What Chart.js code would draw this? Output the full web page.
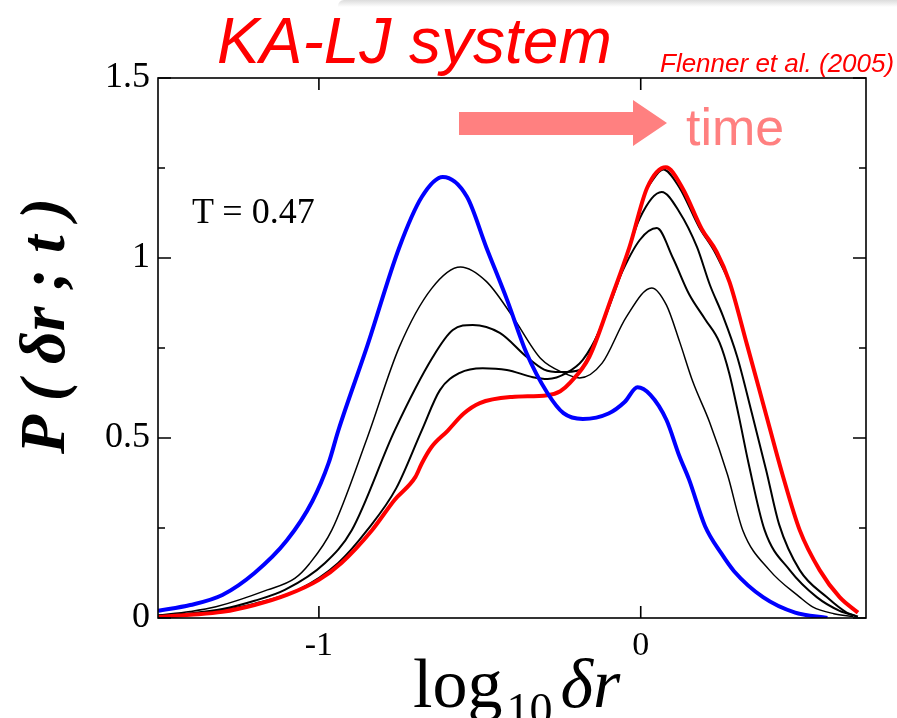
<!DOCTYPE html>
<html>
<head>
<meta charset="utf-8">
<title>KA-LJ system: P(δr;t)</title>
<script src="https://cdn.jsdelivr.net/npm/chart.js@4.4.1/dist/chart.umd.min.js"></script>
<style>
  html, body { margin: 0; padding: 0; background: #fff; }
  #wrap { position: relative; width: 897px; height: 718px; overflow: hidden; background: #fff; }
  #c { position: absolute; left: 0; top: 0; }
  .t { position: absolute; white-space: nowrap; line-height: 1; }
  #shade { position: absolute; left: 338px; top: 0; width: 570px; height: 7px;
           border-top-left-radius: 6px;
           background: linear-gradient(#dcdcdc, rgba(255,255,255,0)); }
  #title { left: 217px; top: 4px; font: italic 64px "Liberation Sans", Arial, sans-serif; color: #ff0000; }
  #cite { left: 660px; top: 48px; font: italic 26px "Liberation Sans", Arial, sans-serif; color: #ff0000; }
  #time { left: 686px; top: 97px; font: 52px "Liberation Sans", Arial, sans-serif; color: #ff8080; }
  #temp { left: 192px; top: 190px; font: 36px "Liberation Serif", "Times New Roman", serif; color: #000; }
  #xtitle { left: 413px; top: 644px; font: 70px "Liberation Serif", "Times New Roman", serif; color: #000; }
  #xtitle .sub { font-size: 46px; position: relative; top: 18px; margin-left: 4px; }
  #xtitle i { margin-left: 8px; }
  #ytitle { left: 43px; top: 326px; font: bold italic 64px "Liberation Serif", "Times New Roman", serif; color: #000;
            transform: translate(-50%, -50%) rotate(-90deg); }
  #arrow { position: absolute; left: 0; top: 0; }
</style>
</head>
<body>
<div id="wrap">
  <div id="shade"></div>
  <canvas id="c" width="897" height="718"></canvas>
  <svg id="arrow" width="897" height="718">
    <polygon points="459,112 633,112 633,100 667,123 633,146 633,135 459,135" fill="#ff8080"/>
  </svg>
  <div class="t" id="title">KA-LJ system</div>
  <div class="t" id="cite">Flenner et al. (2005)</div>
  <div class="t" id="time">time</div>
  <div class="t" id="temp">T = 0.47</div>
  <div class="t" id="xtitle">log<span class="sub">10</span><i>δr</i></div>
  <div class="t" id="ytitle">P ( δr ; t )</div>
</div>
<script>
// Axis ticks and their printed labels
const xTickValues = [-1, 0];
const xTickLabels = ['-1', '0'];
const yTickValues = [0, 0.5, 1, 1.5];
const yTickLabels = ['0', '0.5', '1', '1.5'];

// Earliest time (blue)
const blueX = [-1.5, -1.4, -1.3, -1.2, -1.1, -1.02, -0.97, -0.94, -0.85, -0.75, -0.68, -0.615, -0.54, -0.48, -0.415, -0.355, -0.29, -0.24, -0.18, -0.1, -0.05, -0.01, 0.03, 0.08, 0.12, 0.15, 0.2, 0.25, 0.29, 0.38, 0.48, 0.58];
const blueY = [0.02, 0.036, 0.064, 0.125, 0.215, 0.325, 0.43, 0.52, 0.755, 1.03, 1.17, 1.225, 1.17, 1.03, 0.883, 0.736, 0.625, 0.569, 0.553, 0.568, 0.6, 0.641, 0.62, 0.55, 0.45, 0.385, 0.255, 0.18, 0.13, 0.058, 0.015, 0.0];

// Intermediate times (black), in order of increasing time
const t1X = [-1.5, -1.4, -1.32, -1.16, -1.075, -1.03, -0.96, -0.85, -0.75, -0.65, -0.56, -0.48, -0.4, -0.31, -0.24, -0.19, -0.12, -0.045, 0.034, 0.08, 0.121, 0.162, 0.214, 0.27, 0.317, 0.4, 0.494, 0.534, 0.6, 0.66];
const t1Y = [0.008, 0.018, 0.031, 0.078, 0.11, 0.15, 0.244, 0.5, 0.753, 0.915, 0.975, 0.935, 0.84, 0.72, 0.681, 0.667, 0.708, 0.836, 0.917, 0.869, 0.767, 0.656, 0.544, 0.397, 0.244, 0.133, 0.058, 0.031, 0.012, 0.004];

const t2X = [-1.5, -1.4, -1.3, -1.2, -1.106, -0.981, -0.898, -0.764, -0.646, -0.584, -0.522, -0.438, -0.354, -0.3, -0.25, -0.19, -0.137, -0.065, -0.003, 0.05, 0.1, 0.15, 0.2, 0.245, 0.275, 0.305, 0.335, 0.385, 0.463, 0.547, 0.618, 0.67];
const t2Y = [0.006, 0.013, 0.025, 0.048, 0.078, 0.153, 0.244, 0.522, 0.725, 0.8, 0.814, 0.792, 0.725, 0.69, 0.683, 0.689, 0.781, 0.947, 1.05, 1.083, 1.0, 0.9, 0.83, 0.765, 0.68, 0.56, 0.43, 0.244, 0.133, 0.058, 0.02, 0.005];

const t3X = [-1.5, -1.4, -1.3, -1.2, -1.065, -0.94, -0.85, -0.76, -0.68, -0.624, -0.562, -0.491, -0.416, -0.335, -0.289, -0.23, -0.18, -0.127, -0.065, -0.003, 0.065, 0.12, 0.175, 0.215, 0.255, 0.3, 0.345, 0.39, 0.43, 0.494, 0.578, 0.64, 0.675];
const t3Y = [0.005, 0.011, 0.022, 0.04, 0.078, 0.153, 0.244, 0.36, 0.522, 0.633, 0.681, 0.694, 0.689, 0.669, 0.664, 0.681, 0.717, 0.8, 0.947, 1.11, 1.183, 1.128, 1.03, 0.925, 0.84, 0.725, 0.57, 0.41, 0.26, 0.133, 0.058, 0.015, 0.004];

// Second-latest time: runs just inside the red peak and shoulder
const t4X = [0.02, 0.07, 0.12, 0.182, 0.228, 0.276];
const t4Y = [1.195, 1.246, 1.196, 1.085, 1.02, 0.933];

// Latest time (red)
const redX = [-1.5, -1.4, -1.3, -1.2, -1.1, -1.0, -0.93, -0.835, -0.765, -0.7, -0.68, -0.65, -0.6, -0.55, -0.5, -0.4, -0.29, -0.25, -0.22, -0.16, -0.09, -0.035, 0.02, 0.078, 0.13, 0.19, 0.236, 0.276, 0.33, 0.385, 0.44, 0.494, 0.556, 0.618, 0.675];
const redY = [0.003, 0.009, 0.017, 0.036, 0.064, 0.106, 0.153, 0.244, 0.328, 0.392, 0.43, 0.475, 0.52, 0.568, 0.597, 0.614, 0.619, 0.63, 0.653, 0.725, 0.892, 1.03, 1.195, 1.252, 1.194, 1.08, 1.017, 0.933, 0.76, 0.58, 0.4, 0.244, 0.133, 0.058, 0.015];

const pts = (xs, ys) => xs.map((x, i) => ({ x: x, y: ys[i] }));
const curve = (data, color, width) => ({
  data: data, borderColor: color, borderWidth: width,
  pointRadius: 0, fill: false, cubicInterpolationMode: 'monotone'
});

// Box frame with inward tick marks on all four sides
const frameTicks = {
  id: 'frameTicks',
  afterDatasetsDraw(chart) {
    const { ctx, chartArea: a, scales: { x, y } } = chart;
    ctx.save();
    ctx.strokeStyle = '#000';
    ctx.lineWidth = 1.6;
    ctx.strokeRect(a.left, a.top, a.right - a.left, a.bottom - a.top);
    ctx.beginPath();
    x.ticks.forEach(t => {
      const px = x.getPixelForValue(t.value);
      ctx.moveTo(px, a.bottom); ctx.lineTo(px, a.bottom - 12);
      ctx.moveTo(px, a.top); ctx.lineTo(px, a.top + 12);
    });
    y.ticks.forEach(t => {
      const py = y.getPixelForValue(t.value);
      const major = Math.abs(t.value * 2 - Math.round(t.value * 2)) < 1e-6;
      const len = major ? 13 : 7;
      ctx.moveTo(a.left, py); ctx.lineTo(a.left + len, py);
      ctx.moveTo(a.right, py); ctx.lineTo(a.right - len, py);
    });
    ctx.stroke();
    ctx.restore();
  }
};

const pickLabel = (vals, labels) => (v) => {
  const i = vals.findIndex(t => Math.abs(t - v) < 1e-6);
  return i >= 0 ? labels[i] : '';
};

new Chart(document.getElementById('c'), {
  type: 'line',
  data: {
    datasets: [
      curve(pts(blueX, blueY), '#0000ff', 4),
      curve(pts(redX, redY), '#ff0000', 4),
      curve(pts(t4X, t4Y), '#000000', 2),
      curve(pts(t3X, t3Y), '#000000', 2),
      curve(pts(t2X, t2Y), '#000000', 2),
      curve(pts(t1X, t1Y), '#000000', 1.5)
    ]
  },
  options: {
    responsive: false,
    animation: false,
    layout: { padding: { left: 0, right: 31, top: 78, bottom: 0 } },
    plugins: { legend: { display: false }, tooltip: { enabled: false }, title: { display: false } },
    scales: {
      x: {
        type: 'linear', min: -1.5, max: 0.7,
        grid: { display: false, drawTicks: false },
        border: { display: false },
        ticks: {
          stepSize: 1, includeBounds: false, color: '#000', padding: 8,
          font: { family: '"Liberation Serif", "Times New Roman", serif', size: 34 },
          maxRotation: 0,
          callback: pickLabel(xTickValues, xTickLabels)
        },
        afterFit: (s) => { s.height = 100; }
      },
      y: {
        type: 'linear', min: 0, max: 1.5,
        grid: { display: false, drawTicks: false },
        border: { display: false },
        ticks: {
          stepSize: 0.25, includeBounds: false, color: '#000', padding: 8,
          font: { family: '"Liberation Serif", "Times New Roman", serif', size: 36 },
          autoSkip: false,
          callback: pickLabel(yTickValues, yTickLabels)
        },
        afterFit: (s) => { s.width = 158; }
      }
    }
  },
  plugins: [frameTicks]
});
</script>
</body>
</html>
